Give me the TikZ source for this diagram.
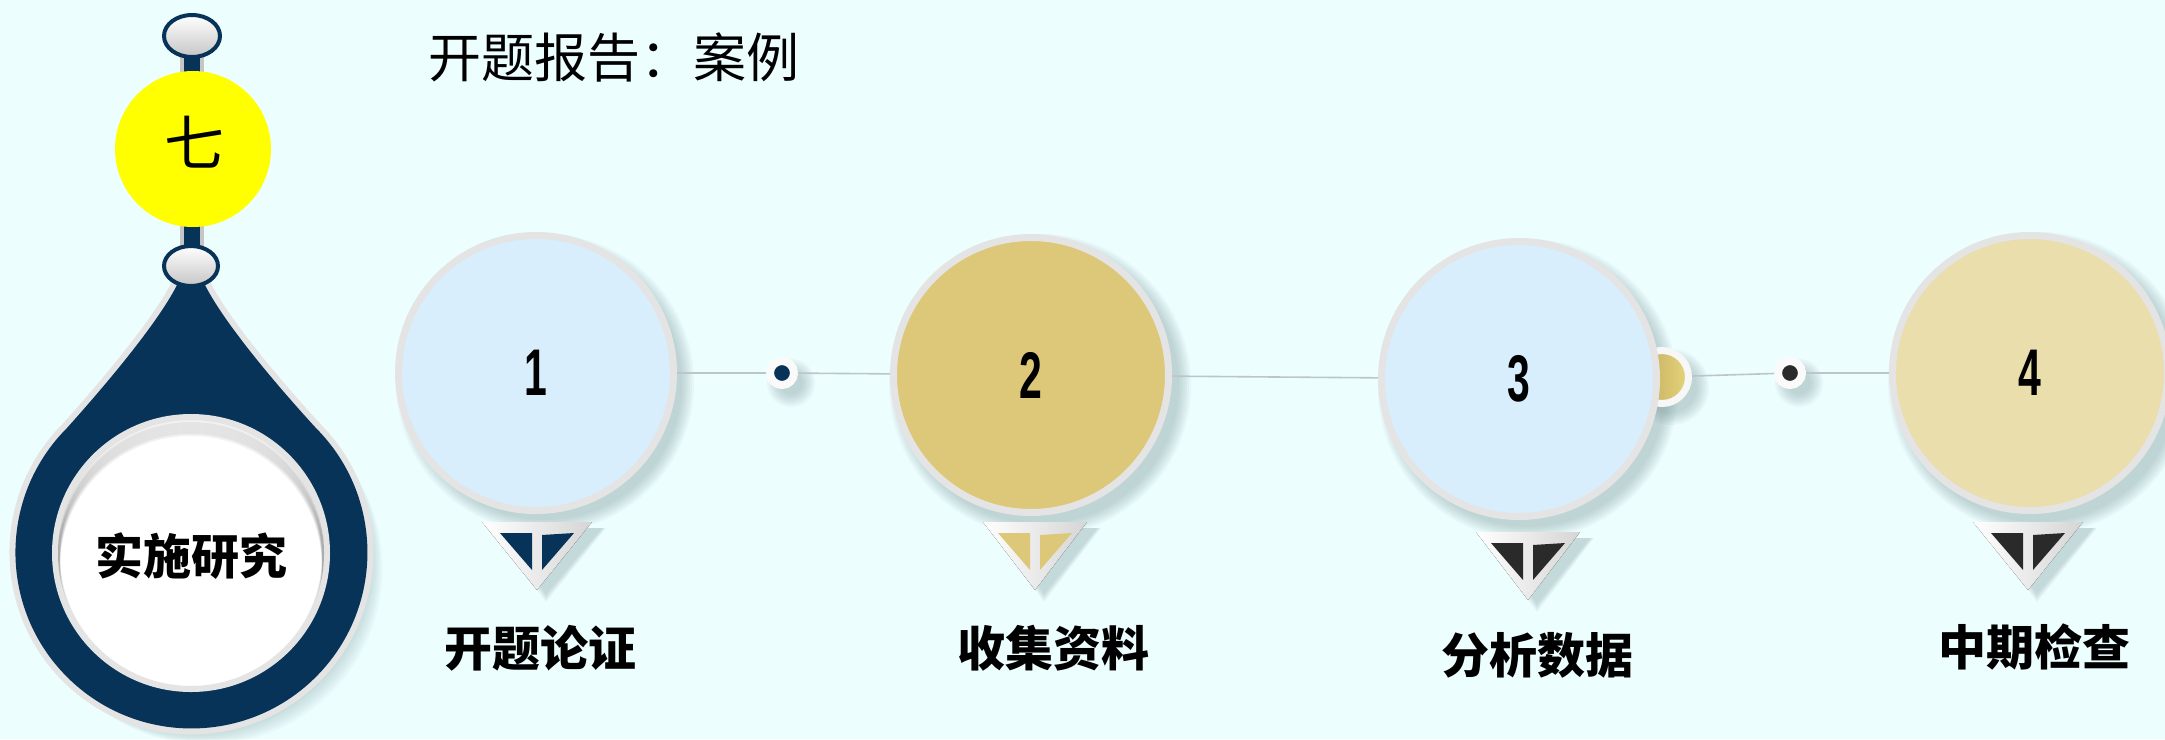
\documentclass[tikz,border=0pt]{standalone}
\usepackage{fontspec}
\usepackage{graphicx}
\newfontfamily\cjk{Noto Sans CJK SC}
\newfontfamily\numfont{Liberation Sans}
\definecolor{bgc}{HTML}{EDFEFF}
\definecolor{navy}{HTML}{073358}
\definecolor{lblue}{HTML}{D8EEFC}
\definecolor{gold}{HTML}{DCC878}
\definecolor{golddk}{HTML}{BFA75A}
\definecolor{goldlt}{HTML}{E6D47C}
\definecolor{beige}{HTML}{E9DEAC}
\definecolor{dark}{HTML}{2A2A2A}
\definecolor{ringc}{HTML}{E4E4E4}
\definecolor{linec}{HTML}{BCC6C8}
\definecolor{shadowc}{HTML}{6F8C8C}
\definecolor{ylw}{HTML}{FFFF00}
\newcommand\softcirc[3]{\foreach \k in {0,...,6}{\fill[shadowc, opacity=0.06] (#1+9,#2+10) circle[radius=#3+8-2*\k];}}
\newcommand\droppath{(178,283) .. controls (160,320) and (110,380) .. (67,428) arc[start angle=225, end angle=-45, radius=176] .. controls (272,380) and (222,320) .. (204,283) -- cycle}
\newcommand\mypointer[4]{%
  \foreach \k in {0,...,4}{\fill[shadowc, opacity=0.07] (#1-#3+8+2*\k,#2+6) -- (#1+#3+14-\k,#2+6) -- (#1+9,#2+80-2*\k) -- cycle;}
  \fill[left color=white, right color=ringc!85!gray] (#1-#3,#2) -- (#1+#3,#2) -- (#1,#2+68) -- cycle;
  \fill[#4] (#1-37,#2+11) -- (#1-5,#2+11) -- (#1-5,#2+48) -- cycle;
  \fill[#4] (#1+5,#2+13) -- (#1+37,#2+11) -- (#1+5,#2+48) -- cycle;
}
\tikzset{
  bigcirc/.style={circle, minimum size=275pt, inner sep=0pt, draw=ringc, line width=7pt,
    font=\numfont\bfseries\fontsize{66}{66}\selectfont},
  dotn/.style={circle, minimum size=24pt, inner sep=0pt, draw=white!96!gray, line width=8pt},
  steplabel/.style={font=\cjk\bfseries\fontsize{48}{50}\selectfont, inner sep=0pt},
  conn/.style={linec, line width=1.6pt},
}
\begin{document}
\begin{tikzpicture}[x=1pt,y=-1pt]
\useasboundingbox (0,0) rectangle (2165,739);
\fill[bgc] (0,0) rectangle (2165,739);

% ---- shadows ----
\foreach \k in {0,...,5}{\begin{scope}[shift={(5+2*\k,6+2*\k)}]\fill[shadowc, opacity=0.05] \droppath;\end{scope}}
\softcirc{536}{373}{141}
\softcirc{1031}{375}{143}
\softcirc{1519}{379}{142}
\softcirc{2030}{373}{143}
\softcirc{782}{373}{16}
\softcirc{1790}{373}{16}
\softcirc{1662}{377}{30}

% ---- left drop element ----
\fill[ringc!70!gray] (180,36) rectangle (204,266);
\fill[navy] (184,36) rectangle (200,266);
\draw[navy, line width=4pt, top color=white, bottom color=gray!45] (192,36) ellipse [x radius=28, y radius=21];
\node[circle, fill=ylw, minimum size=156pt, inner sep=0pt] (yc) at (193,149) {};
\node[font=\cjk\fontsize{60}{62}\selectfont] (qi) at (194,142) {七};
\draw[ringc, line width=12pt, line join=round] \droppath;
\fill[navy] \droppath;
\draw[navy, line width=4pt, top color=white, bottom color=gray!45] (191,266) ellipse [x radius=27, y radius=20];
\node[circle, fill=white, draw=ringc, line width=6pt, minimum size=272pt, inner sep=0pt] (inner) at (191,553) {};
\begin{scope}
  \clip (191,553) circle[radius=133];
  \foreach \k in {1,...,7}{\draw[black, opacity=0.05, line width=4pt] (191,553+2*\k) circle[radius=133];}
\end{scope}
\node[font=\cjk\bfseries\fontsize{48}{50}\selectfont] (lead) at (191,556) {实施研究};

% ---- title ----
\node[anchor=west, font=\cjk\fontsize{53}{55}\selectfont, inner sep=0pt] (title) at (428,57) {开题报告：案例};

% ---- gold half circle behind circle 3 ----
\node[circle, minimum size=53pt, inner sep=0pt, draw=white!94!gray, line width=7pt, left color=golddk, right color=goldlt] (g3) at (1662,377) {};

% ---- pointers ----
\mypointer{537}{522}{55}{navy}
\mypointer{1035}{522}{52}{gold}
\mypointer{1528}{532}{52}{dark}
\mypointer{2028}{522}{55}{dark}

% ---- circles ----
\node[bigcirc, fill=lblue] (c1) at (536,373) {\scalebox{0.62}[1]{1}};
\node[bigcirc, fill=gold] (c2) at (1031,375) {\scalebox{0.62}[1]{2}};
\node[bigcirc, fill=lblue] (c3) at (1519,379) {\scalebox{0.62}[1]{3}};
\node[bigcirc, fill=beige] (c4) at (2030,373) {\scalebox{0.62}[1]{4}};

% ---- dots ----
\node[dotn, fill=navy] (d1) at (782,373) {};
\node[dotn, fill=dark] (d3) at (1790,373) {};

% ---- connectors ----
\draw[conn] (c1) -- (d1) -- (c2) -- (c3);
\draw[conn] (g3) -- (d3) -- (c4);

% ---- labels ----
\node[steplabel] (t1) at (540,648) {开题论证};
\node[steplabel] (t2) at (1053,648) {收集资料};
\node[steplabel] (t3) at (1537,655) {分析数据};
\node[steplabel] (t4) at (2034,647) {中期检查};
\end{tikzpicture}
\end{document}
